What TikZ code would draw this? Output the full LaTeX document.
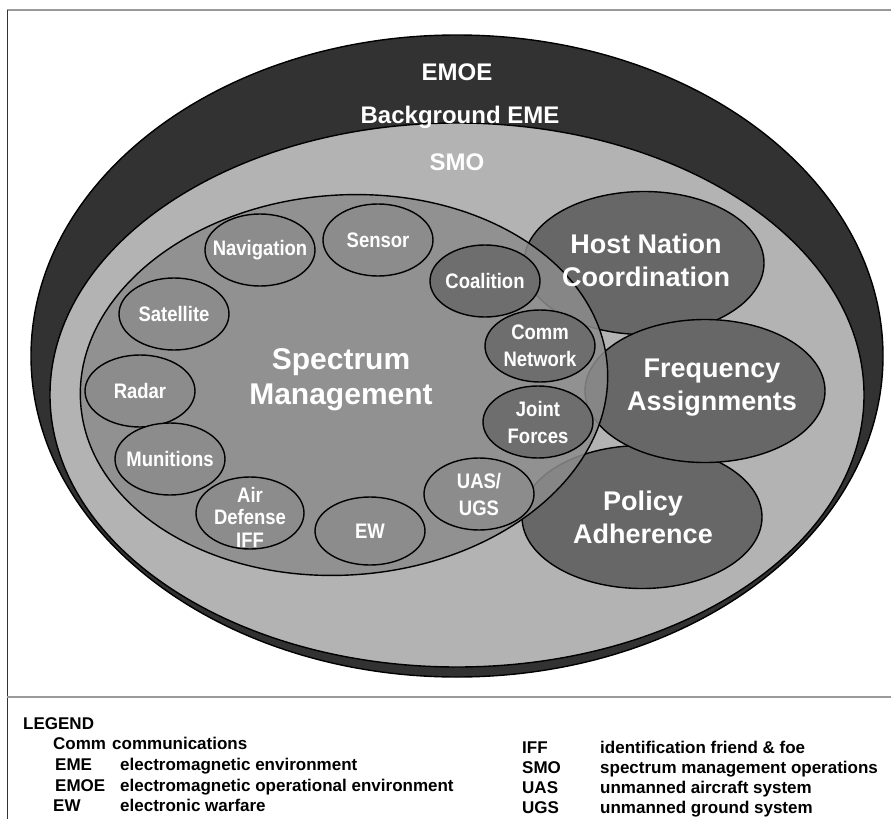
\documentclass[tikz,border=0pt]{standalone}
\usepackage{fontspec}
\setmainfont{Liberation Sans}
\newfontfamily\narrowfont[FakeStretch=0.88]{Liberation Sans}
\usetikzlibrary{shapes.geometric}

\definecolor{ringdark}{HTML}{323232}
\definecolor{smofill}{HTML}{B3B3B3}
\definecolor{smfill}{HTML}{8C8C8C}
\definecolor{bigfill}{HTML}{676767}
\definecolor{darkfill}{HTML}{6E6E6E}
\definecolor{framegray}{HTML}{9A9A9A}

\begin{document}
\begin{tikzpicture}[x=1pt,y=-1pt,
  oval/.style={ellipse, draw=black, line width=1.4pt, inner sep=0pt},
  smallov/.style={oval, fill=smfill, minimum width=110pt, minimum height=72pt},
  darkov/.style={smallov, fill=darkfill},
  bigov/.style={oval, fill=bigfill, minimum width=240pt, minimum height=143pt},
  smtxt/.style={text=white, align=center, inner sep=0pt,
    font=\narrowfont\bfseries\fontsize{21}{27}\selectfont},
  bigtxt/.style={text=white, align=center, inner sep=0pt,
    font=\bfseries\fontsize{27}{33}\selectfont},
  toptxt/.style={text=white, inner sep=0pt, font=\bfseries\fontsize{24}{28}\selectfont},
  legtxt/.style={anchor=base west, inner sep=0pt, font=\bfseries\fontsize{17}{20}\selectfont}]

\useasboundingbox (0,0) rectangle (891,819);
\fill[white] (0,0) rectangle (891,819);

% frame and legend separator
\draw[framegray, line width=2.5pt] (7,10) -- (891,10);
\draw[black!80, line width=0.8pt] (7,10) -- (7,819);
\draw[framegray, line width=2.5pt] (7,697) -- (891,697);

% nested environments
\node[oval, fill=ringdark, minimum width=852pt, minimum height=642pt] (emoe) at (457,356) {};
\node[oval, fill=smofill, minimum width=814pt, minimum height=544pt] (smo) at (457,395) {};

% SMO functions outside spectrum management
\node[bigov] (hnc) at (644,263) {};
\node[bigov] (pol) at (642,517) {};
\node[bigov] (freq) at (705,391) {};

% spectrum management
\node[oval, fill=smfill, fill opacity=0.85, minimum width=528pt, minimum height=380pt, rotate=4] (sm) at (344,385) {};

% spectrum users
\node[smallov] (nav) at (260,250) {};
\node[smallov] (sensor) at (378,240) {};
\node[darkov] (coal) at (485,281) {};
\node[smallov] (sat) at (174,314) {};
\node[darkov] (comm) at (540,346) {};
\node[smallov] (radar) at (140,391) {};
\node[darkov] (joint) at (538,422) {};
\node[smallov] (mun) at (170,459) {};
\node[smallov] (uas) at (479,494) {};
\node[smallov, minimum width=108pt] (air) at (250,513) {};
\node[smallov, minimum height=68pt] (ew) at (370,531) {};

% labels
\node[toptxt] (emoeT) at (457,72) {EMOE};
\node[toptxt] (smoBgT) at (460,117) {Background EME};
\node[toptxt] (smoT) at (457,162) {SMO};

\node[bigtxt, font=\bfseries\fontsize{30}{35}\selectfont] (smT) at (341,380) {Spectrum\\Management};
\node[bigtxt] (hncT) at (646,260) {Host Nation\\Coordination};
\node[bigtxt] (freqT) at (712,388) {Frequency\\Assignments};
\node[bigtxt] (polT) at (643,517) {Policy\\Adherence};

\node[smtxt] (navT) at (nav) {Navigation};
\node[smtxt] (sensorT) at (sensor) {Sensor};
\node[smtxt] (coalT) at (coal) {Coalition};
\node[smtxt] (satT) at (sat) {Satellite};
\node[smtxt] (commT) at (comm) {Comm\\Network};
\node[smtxt] (radarT) at (radar) {Radar};
\node[smtxt] (jointT) at (joint) {Joint\\Forces};
\node[smtxt] (munT) at (mun) {Munitions};
\node[smtxt] (uasT) at (uas) {UAS/\\UGS};
\node[smtxt, font=\narrowfont\bfseries\fontsize{21}{22.5}\selectfont] (airT) at (250,517) {Air\\Defense\\IFF};
\node[smtxt] (ewT) at (ew) {EW};

% legend
\node[legtxt] (legH) at (23,729) {LEGEND};
\node[legtxt] (lg1a) at (53,749) {Comm};
\node[legtxt] (lg1b) at (112,749) {communications};
\node[legtxt] (lg2a) at (55,770) {EME};
\node[legtxt] (lg2b) at (120,770) {electromagnetic environment};
\node[legtxt] (lg3a) at (55,791) {EMOE};
\node[legtxt] (lg3b) at (120,791) {electromagnetic operational environment};
\node[legtxt] (lg4a) at (53,811) {EW};
\node[legtxt] (lg4b) at (120,811) {electronic warfare};
\node[legtxt] (lg5a) at (522,753) {IFF};
\node[legtxt] (lg5b) at (600,753) {identification friend \& foe};
\node[legtxt] (lg6a) at (522,773) {SMO};
\node[legtxt] (lg6b) at (600,773) {spectrum management operations};
\node[legtxt] (lg7a) at (522,793) {UAS};
\node[legtxt] (lg7b) at (600,793) {unmanned aircraft system};
\node[legtxt] (lg8a) at (522,813) {UGS};
\node[legtxt] (lg8b) at (600,813) {unmanned ground system};
\end{tikzpicture}
\end{document}
